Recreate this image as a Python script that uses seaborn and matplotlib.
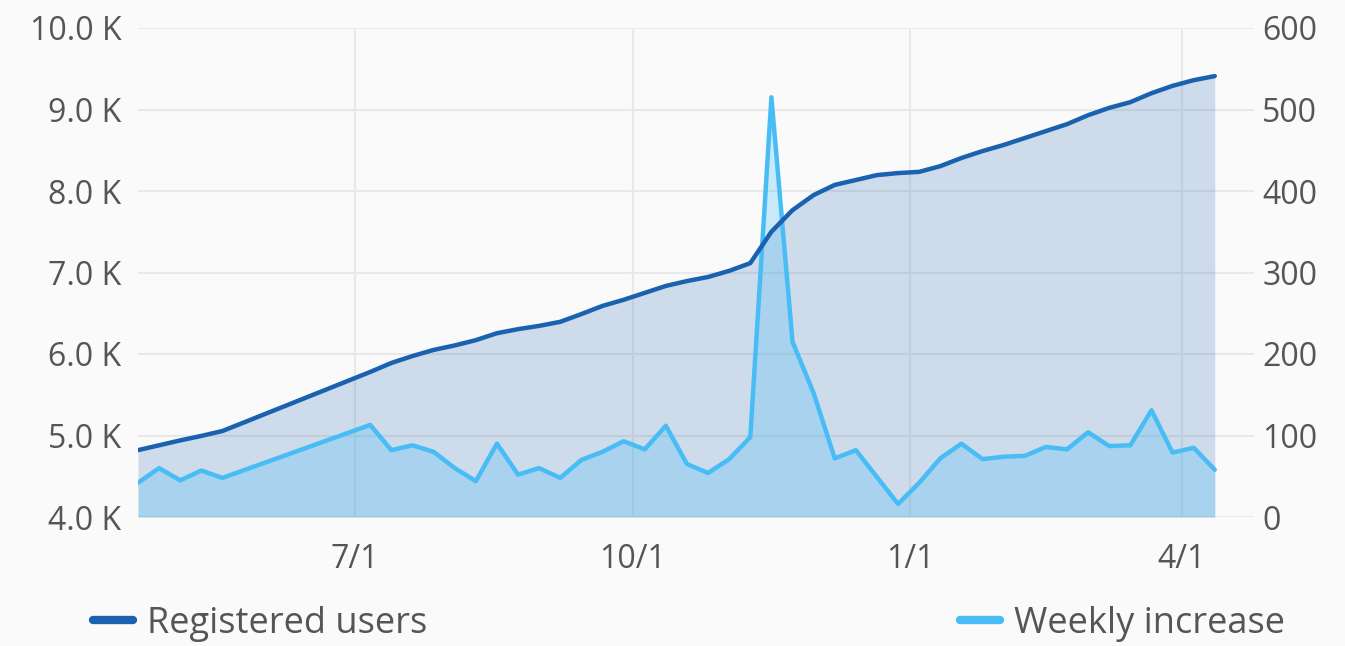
import pandas as pd
import matplotlib.pyplot as plt
import seaborn as sns
from matplotlib.lines import Line2D
from matplotlib.ticker import FuncFormatter

# Weekly data points (a few weeks in early summer are missing)
week_dates = [
    '2014-04-20', '2014-04-27', '2014-05-04', '2014-05-11', '2014-05-18',
    '2014-07-06', '2014-07-13', '2014-07-20', '2014-07-27', '2014-08-03',
    '2014-08-10', '2014-08-17', '2014-08-24', '2014-08-31', '2014-09-07',
    '2014-09-14', '2014-09-21', '2014-09-28', '2014-10-05', '2014-10-12',
    '2014-10-19', '2014-10-26', '2014-11-02', '2014-11-09', '2014-11-16',
    '2014-11-23', '2014-11-30', '2014-12-07', '2014-12-14', '2014-12-21',
    '2014-12-28', '2015-01-04', '2015-01-11', '2015-01-18', '2015-01-25',
    '2015-02-01', '2015-02-08', '2015-02-15', '2015-02-22', '2015-03-01',
    '2015-03-08', '2015-03-15', '2015-03-22', '2015-03-29', '2015-04-05',
    '2015-04-12',
]
registered_users = [
    4820, 4880, 4940, 4995, 5055,
    5780, 5890, 5975, 6050, 6105,
    6170, 6255, 6305, 6345, 6395,
    6490, 6590, 6665, 6750, 6835,
    6895, 6945, 7020, 7115, 7500,
    7765, 7950, 8075, 8135, 8195,
    8220, 8235, 8305, 8405, 8490,
    8565, 8650, 8735, 8820, 8930,
    9020, 9090, 9200, 9290, 9360,
    9410,
]
weekly_increase = [
    42, 60, 45, 57, 48,
    113, 82, 88, 80, 60,
    44, 90, 52, 60, 48,
    70, 80, 93, 83, 112,
    65, 54, 71, 98, 515,
    215, 152, 72, 82, 49,
    16, 42, 72, 90, 71,
    74, 75, 86, 83, 104,
    87, 88, 131, 79, 85,
    58,
]

tick_dates = ['2014-07-01', '2014-10-01', '2015-01-01', '2015-04-01']
tick_labels = ['7/1', '10/1', '1/1', '4/1']

df = pd.DataFrame({
    'date': pd.to_datetime(week_dates),
    'registered': registered_users,
    'weekly': weekly_increase,
})

sns.set_theme(style='white')
plt.rcParams['font.family'] = ['Open Sans', 'DejaVu Sans']

dark_blue = '#1a62b0'
light_blue = '#48bdf5'
text_col = '#555555'
bg = '#fafafa'

fig = plt.figure(figsize=(13.45, 6.46), dpi=100, facecolor=bg)
ax = fig.add_axes([138 / 1345, 129 / 646, 1116 / 1345, 489 / 646])
ax.set_facecolor(bg)
ax2 = ax.twinx()
ax3 = ax.twinx()

# bottom layer: grid + registered users area
ax.set_axisbelow(True)
ax.grid(True, color='#e9e9e9', lw=1.5)
ax.fill_between(df['date'], 4000, df['registered'], color=dark_blue, alpha=0.2, lw=0)
ax.set_ylim(4000, 10000)
ax.set_yticks(range(4000, 10001, 1000))
ax.yaxis.set_major_formatter(FuncFormatter(lambda v, p: f'{v / 1000:.1f} K'))
ax.set_xticks(pd.to_datetime(tick_dates))
ax.set_xticklabels(tick_labels)
ax.set_xlim(pd.Timestamp('2014-04-20'), pd.Timestamp('2015-04-25'))
ax.tick_params(axis='both', length=0, labelsize=23, labelcolor=text_col)
ax.tick_params(axis='y', pad=12)
ax.tick_params(axis='x', pad=19)
ax.set_xlabel('')
ax.set_ylabel('')

# middle layer: weekly increase on the right axis
ax2.fill_between(df['date'], 0, df['weekly'], color=light_blue, alpha=0.28, lw=0)
sns.lineplot(data=df, x='date', y='weekly', ax=ax2, color=light_blue, lw=3.2, legend=False)
ax2.set_ylim(0, 600)
ax2.set_yticks(range(0, 601, 100))
ax2.tick_params(axis='y', length=0, pad=6, labelsize=23, labelcolor=text_col)
ax2.set_ylabel('')

# top layer: registered users line
sns.lineplot(data=df, x='date', y='registered', ax=ax3, color=dark_blue, lw=3.2, legend=False)
ax3.set_ylim(4000, 10000)
ax3.set_yticks([])
ax3.set_ylabel('')

for a in (ax, ax2, ax3):
    for s in a.spines.values():
        s.set_visible(False)

reg_handle = Line2D([], [], color=dark_blue, lw=6, solid_capstyle='round')
wk_handle = Line2D([], [], color=light_blue, lw=6, solid_capstyle='round')
leg_kw = dict(loc='center left', frameon=False, borderpad=0, borderaxespad=0,
              handlelength=1.1, handletextpad=0.4, fontsize=26, labelcolor=text_col)
fig.legend([reg_handle], ['Registered users'], bbox_to_anchor=(93 / 1345, 22 / 646), **leg_kw)
fig.legend([wk_handle], ['Weekly increase'], bbox_to_anchor=(960 / 1345, 22 / 646), **leg_kw)

fig.savefig('out.png', dpi=100, facecolor=bg)
